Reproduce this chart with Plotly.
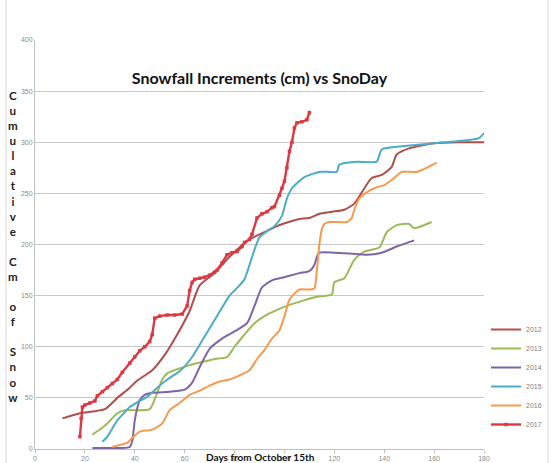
import plotly.graph_objects as go

# ---- data ----
days_2012 = [11, 18, 28, 33, 38, 41, 47, 52, 57, 62, 66, 72, 78, 86, 92, 97, 103, 106, 110, 114, 119, 124, 128, 131, 135, 139, 143, 145, 150, 160, 170, 180]
snow_2012 = [30, 35, 39, 50, 60, 67, 77, 92, 112, 135, 160, 172, 188, 205, 212, 218, 223, 225, 226, 230, 232, 234, 240, 251, 265, 268, 276, 288, 294, 299, 300, 300]

days_2013 = [23, 26, 29, 33, 36, 40, 46, 49, 51, 53, 57, 62, 67, 72, 77, 80, 84, 88, 92, 97, 102, 106, 113, 119, 120, 124, 128, 132, 138, 141, 145, 150, 152, 159]
snow_2013 = [14, 19, 25, 35, 38, 38, 39, 55, 68, 74, 78, 82, 85, 88, 90, 100, 112, 123, 130, 136, 141, 144, 149, 151, 163, 167, 185, 193, 197, 212, 219, 220, 216, 222]

days_2014 = [23, 30, 38, 39, 40, 41, 42, 44, 47, 54, 60, 63, 66, 70, 75, 80, 85, 88, 91, 95, 100, 106, 110, 112, 113, 114, 120, 127, 133, 139, 145, 152]
snow_2014 = [1, 1, 2, 8, 28, 40, 48, 53, 55, 56, 58, 65, 80, 98, 108, 115, 123, 140, 158, 165, 168, 172, 174, 180, 188, 192, 192, 191, 190, 192, 198, 204]

days_2015 = [27, 29, 31, 33, 36, 38, 42, 45, 49, 53, 58, 63, 68, 73, 78, 82, 84, 86, 88, 90, 93, 96, 99, 101, 103, 105, 108, 114, 118, 121, 122, 125, 129, 137, 138, 139, 143, 147, 160, 173, 178, 180]
snow_2015 = [7, 12, 20, 28, 36, 41, 47, 51, 60, 68, 76, 90, 110, 130, 150, 160, 166, 180, 195, 207, 213, 218, 228, 245, 255, 260, 266, 271, 271, 271, 278, 280, 281, 281, 287, 293, 295, 296, 299, 302, 304, 309]

days_2016 = [31, 34, 37, 39, 42, 47, 51, 54, 58, 62, 66, 70, 74, 78, 82, 86, 89, 92, 95, 98, 100, 102, 104, 106, 110, 112, 113, 114, 115, 116, 118, 125, 127, 128, 130, 133, 137, 140, 144, 147, 153, 157, 161]
snow_2016 = [2, 4, 6, 11, 17, 19, 25, 38, 45, 53, 57, 62, 66, 68, 72, 77, 88, 97, 108, 116, 130, 146, 152, 156, 156, 157, 175, 200, 215, 220, 222, 222, 226, 234, 245, 251, 256, 258, 265, 271, 271, 275, 280]

days_2017 = [18, 18.5, 19, 20, 22, 24, 25, 27, 29, 31, 33, 35, 38, 40, 42, 44, 46, 47, 48, 50, 53, 56, 59, 61, 62, 63, 64, 66, 68, 70, 72, 73, 75, 77, 79, 81, 83, 84, 86, 87, 89, 91, 93, 95, 96, 98, 99, 100, 101, 102, 103, 104, 105, 107, 109, 110]
snow_2017 = [12, 30, 41, 43, 45, 47, 52, 56, 60, 64, 68, 75, 84, 90, 96, 100, 105, 112, 128, 130, 131, 131, 132, 140, 155, 163, 166, 167, 168, 170, 173, 175, 182, 190, 192, 193, 198, 202, 205, 210, 226, 230, 232, 236, 237, 248, 255, 262, 275, 291, 300, 314, 319, 320, 322, 329]

x_ticks = [0, 20, 40, 60, 80, 100, 120, 140, 160, 180]
y_ticks = [0, 50, 100, 150, 200, 250, 300, 350, 400]

title_text = "Snowfall Increments (cm) vs SnoDay"
x_title = "Days from October 15th"
y_title = "Cumulative Cm of Snow"

series = [
    ("2012", days_2012, snow_2012, "#B04E4C"),
    ("2013", days_2013, snow_2013, "#9BBB59"),
    ("2014", days_2014, snow_2014, "#7F64A6"),
    ("2015", days_2015, snow_2015, "#4BACC6"),
    ("2016", days_2016, snow_2016, "#F59A4E"),
]

fig = go.Figure()
for name, xs, ys, col in series:
    fig.add_trace(go.Scatter(x=xs, y=ys, name=name, mode="lines",
                             line=dict(color=col, width=2, shape="spline", smoothing=0.6)))
fig.add_trace(go.Scatter(x=days_2017, y=snow_2017, name="2017", mode="lines+markers",
                         line=dict(color="#DC3A42", width=2.4),
                         marker=dict(symbol="square", size=3.5, color="#DC3A42")))

W, H = 553, 463
L, R, T, B = 35, 69, 40, 14
pw, ph = W - L - R, H - T - B

def px_to_paper_x(px):
    return (px - L) / pw

def px_to_paper_y(py):
    return (H - B - py) / ph

fig.update_layout(
    width=W, height=H,
    margin=dict(l=L, r=R, t=T, b=B, autoexpand=False),
    paper_bgcolor="white", plot_bgcolor="white",
    font=dict(family="Liberation Sans", size=7, color="#808080"),
    title=dict(text=title_text, x=0.5, xref="paper", xanchor="center",
               y=1 - 78 / H, yref="container", yanchor="middle",
               font=dict(family="Lato", size=16, color="#111111", weight="bold")),
    showlegend=True,
    legend=dict(xref="container", yref="container", x=486 / W, xanchor="left",
                y=1 - 377 / H, yanchor="middle", tracegroupgap=0,
                font=dict(size=7, color="#808080"), bgcolor="rgba(0,0,0,0)", itemwidth=30),
    xaxis=dict(range=[0, 180], tickvals=x_ticks, showgrid=False, zeroline=False,
               showline=True, linecolor="#BFBFBF", linewidth=1,
               ticks="outside", ticklen=3, tickcolor="#BFBFBF",
               tickfont=dict(size=7, color="#8C8C8C")),
    yaxis=dict(range=[0, 400], tickvals=y_ticks, showgrid=True, gridcolor="#C8C8C8", gridwidth=1,
               zeroline=False, showline=True, linecolor="#BFBFBF", linewidth=1,
               ticks="", tickfont=dict(size=7, color="#8C8C8C")),
)

fig.add_annotation(text=x_title, xref="paper", yref="paper", x=px_to_paper_x(260), y=px_to_paper_y(457),
                   xanchor="center", yanchor="middle", showarrow=False,
                   font=dict(family="Lato", size=10, color="#111111", weight="bold"))

stacked = "<br>".join(ch if ch != " " else "\u00a0" for ch in y_title)
fig.add_annotation(text=stacked, xref="paper", yref="paper", x=px_to_paper_x(13), y=px_to_paper_y(246),
                   xanchor="center", yanchor="middle", showarrow=False, align="center",
                   font=dict(family="Lato", size=11.6, color="#222222", weight="bold"))

for xp in (6, 548):
    fig.add_shape(type="line", xref="paper", yref="paper",
                  x0=px_to_paper_x(xp), x1=px_to_paper_x(xp), y0=px_to_paper_y(463), y1=px_to_paper_y(0),
                  line=dict(color="#D9D9D9", width=1))

fig.write_html("out.html", config={"displayModeBar": False},
               post_script="document.body.style.margin='0';document.body.style.overflow='hidden';")
